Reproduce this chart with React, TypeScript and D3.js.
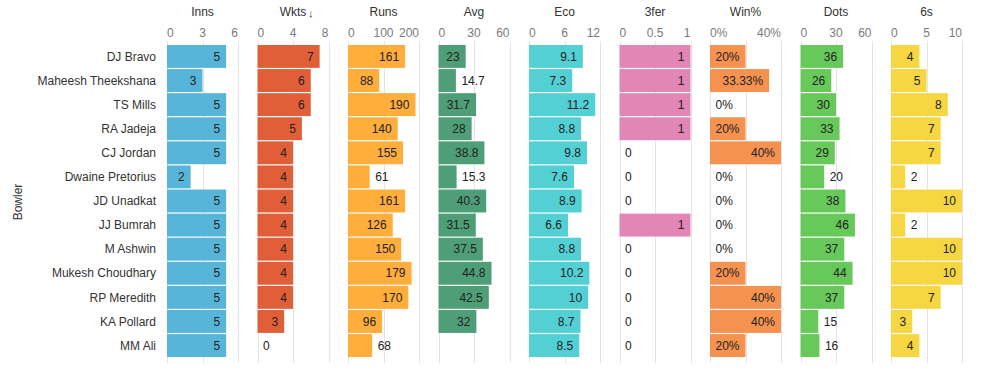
import React from "react";
import * as d3 from "d3";

const bowlers = ["DJ Bravo", "Maheesh Theekshana", "TS Mills", "RA Jadeja", "CJ Jordan", "Dwaine Pretorius", "JD Unadkat", "JJ Bumrah", "M Ashwin", "Mukesh Choudhary", "RP Meredith", "KA Pollard", "MM Ali"];
const inns = [5, 3, 5, 5, 5, 2, 5, 5, 5, 5, 5, 5, 5];
const wkts = [7, 6, 6, 5, 4, 4, 4, 4, 4, 4, 4, 3, 0];
const runs = [161, 88, 190, 140, 155, 61, 161, 126, 150, 179, 170, 96, 68];
const avg: (number | null)[] = [23, 14.7, 31.7, 28, 38.8, 15.3, 40.3, 31.5, 37.5, 44.8, 42.5, 32, null];
const eco = [9.1, 7.3, 11.2, 8.8, 9.8, 7.6, 8.9, 6.6, 8.8, 10.2, 10, 8.7, 8.5];
const threeFer = [1, 1, 1, 1, 0, 0, 0, 1, 0, 0, 0, 0, 0];
const winPct = [0.2, 0.3333, 0, 0.2, 0.4, 0, 0, 0, 0, 0.2, 0.4, 0.4, 0.2];
const dots = [36, 26, 30, 33, 29, 20, 38, 46, 37, 44, 37, 15, 16];
const sixes = [4, 5, 8, 7, 7, 2, 10, 2, 10, 10, 7, 3, 4];

type Panel = {
  title: string;
  arrow?: boolean;
  values: (number | null)[];
  max: number;
  ticks: number[];
  tickLabels: string[];
  color: string;
  fmt: (v: number) => string;
};

const panels: Panel[] = [
  { title: "Inns", values: inns, max: 6, ticks: [0, 3, 6], tickLabels: ["0", "3", "6"], color: "#58b5da", fmt: (v) => String(v) },
  { title: "Wkts", arrow: true, values: wkts, max: 8, ticks: [0, 4, 8], tickLabels: ["0", "4", "8"], color: "#e05f38", fmt: (v) => String(v) },
  { title: "Runs", values: runs, max: 200, ticks: [0, 100, 200], tickLabels: ["0", "100", "200"], color: "#ffad3b", fmt: (v) => String(v) },
  { title: "Avg", values: avg, max: 60, ticks: [0, 30, 60], tickLabels: ["0", "30", "60"], color: "#4e9e78", fmt: (v) => String(v) },
  { title: "Eco", values: eco, max: 12, ticks: [0, 6, 12], tickLabels: ["0", "6", "12"], color: "#52d0d4", fmt: (v) => String(v) },
  { title: "3fer", values: threeFer, max: 1, ticks: [0, 0.5, 1], tickLabels: ["0", "0.5", "1"], color: "#e186b5", fmt: (v) => String(v) },
  { title: "Win%", values: winPct, max: 0.4, ticks: [0, 0.2, 0.4], tickLabels: ["0%", "", "40%"], color: "#f5924f", fmt: (v) => (v === 0 ? "0%" : `${+(v * 100).toFixed(2)}%`) },
  { title: "Dots", values: dots, max: 60, ticks: [0, 30, 60], tickLabels: ["0", "30", "60"], color: "#66c959", fmt: (v) => String(v) },
  { title: "6s", values: sixes, max: 10, ticks: [0, 5, 10], tickLabels: ["0", "5", "10"], color: "#f6d641", fmt: (v) => String(v) },
];

const W = 989;
const H = 380;
const FONT = "'Liberation Sans', Arial, sans-serif";

let ctx: CanvasRenderingContext2D | null = null;
function textWidth(s: string): number {
  if (!ctx) {
    const c = document.createElement("canvas");
    ctx = c.getContext("2d");
  }
  if (!ctx) return s.length * 6.7;
  ctx.font = `12px ${FONT}`;
  return ctx.measureText(s).width;
}

export default function App() {
  const y = d3.scaleBand<string>().domain(bowlers).range([45, 357]).paddingInner(0.05).paddingOuter(0);
  const panelX = d3.scaleLinear().domain([0, 8]).range([167, 891]);
  const panelW = 71;
  const gridTop = 41;
  const gridBottom = 363;

  return (
    <svg width={W} height={H} style={{ position: "absolute", left: 0, top: 0, background: "#fff" }} fontFamily={FONT}>
      <rect x={0} y={0} width={W} height={H} fill="#fff" />
      <text transform={`translate(22,202) rotate(-90)`} textAnchor="middle" fontSize={12} fill="#333">Bowler</text>
      {bowlers.map((b) => (
        <text key={b} x={156} y={(y(b) as number) + y.bandwidth() / 2} dy="0.35em" textAnchor="end" fontSize={12} fill="#333">{b}</text>
      ))}
      {panels.map((p, i) => {
        const x0 = panelX(i);
        const x = d3.scaleLinear().domain([0, p.max]).range([x0, x0 + panelW]);
        return (
          <g key={p.title}>
            <text x={x0 + panelW / 2} y={16} textAnchor="middle" fontSize={12} fill="#333">{p.title}</text>
            {p.arrow && (
              <text x={x0 + panelW / 2 + 15} y={17} textAnchor="start" fontSize={11} fill="#333">↓</text>
            )}
            {p.ticks.map((t, k) => (
              <line key={"g" + k} x1={Math.round(x(t)) + 0.5} x2={Math.round(x(t)) + 0.5} y1={gridTop} y2={gridBottom} stroke="#e4e4e4" strokeWidth={1} />
            ))}
            {p.ticks.map((t, k) => (
              <text key={"t" + k} x={x(t)} y={37} textAnchor={k === 0 ? "start" : k === p.ticks.length - 1 ? "end" : "middle"} fontSize={12} fill="#7a7a7a">{p.tickLabels[k]}</text>
            ))}
            {bowlers.map((b, r) => {
              const v = p.values[r];
              if (v === null || v === undefined) return null;
              const yy = y(b) as number;
              const bw = x(v) - x(0);
              const label = p.fmt(v);
              const tw = textWidth(label);
              const inside = bw >= tw + 11.2;
              return (
                <g key={b}>
                  {bw > 0 && <rect x={x(0)} y={yy} width={bw} height={y.bandwidth()} fill={p.color} />}
                  <text
                    x={inside ? x(v) - 6 : x(v) + 5.5}
                    y={yy + y.bandwidth() / 2}
                    dy="0.35em"
                    textAnchor={inside ? "end" : "start"}
                    fontSize={12}
                    fill="#222"
                  >
                    {label}
                  </text>
                </g>
              );
            })}
          </g>
        );
      })}
    </svg>
  );
}
